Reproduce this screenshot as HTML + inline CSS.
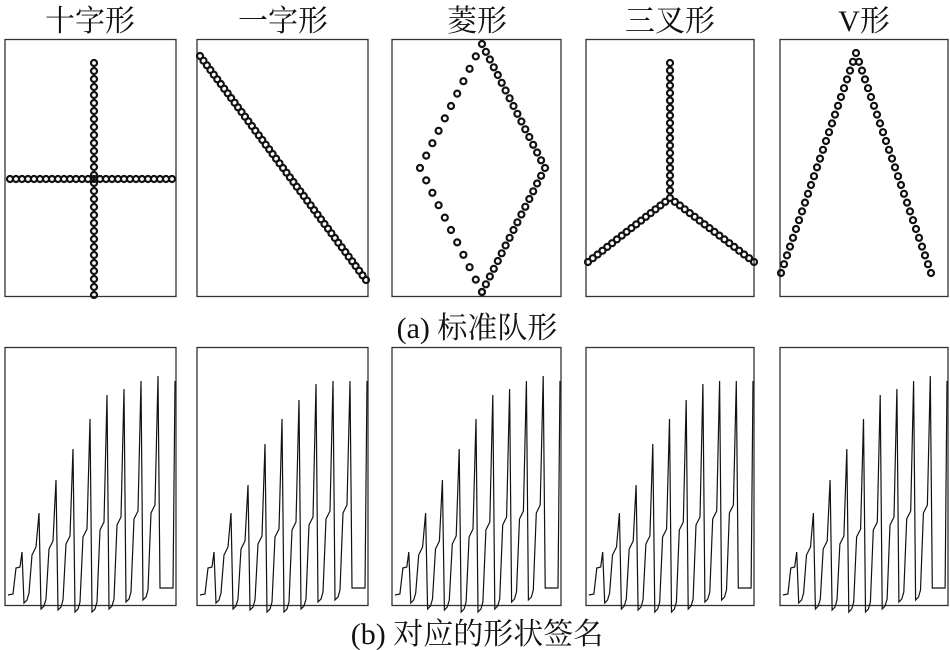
<!DOCTYPE html>
<html><head><meta charset="utf-8"><style>
html,body{margin:0;padding:0;background:#fff;width:950px;height:650px;overflow:hidden}
text{font-family:"Liberation Serif","Noto Serif CJK SC",serif;fill:#111}
</style></head><body>
<svg id="s" width="950" height="650" xmlns="http://www.w3.org/2000/svg">
<g font-size="30" text-anchor="middle">
<text x="90" y="31">十字形</text>
<text x="283" y="31">一字形</text>
<text x="477" y="31">菱形</text>
<text x="670" y="31">三叉形</text>
<text x="864" y="31">V形</text>
<text x="477" y="338">(a) 标准队形</text>
<text x="477" y="644">(b) 对应的形状签名</text>
</g>
<g id="g" fill="none" stroke="#333" stroke-width="1.3"></g>
</svg>
<script>
var g=document.getElementById('g'),h='';
var P=[[5,176],[197,368],[392,561],[586,754],[780,948]];
P.forEach(function(p){h+='<rect x="'+p[0]+'" y="39.5" width="'+(p[1]-p[0])+'" height="257"/>';
h+='<rect x="'+p[0]+'" y="347.5" width="'+(p[1]-p[0])+'" height="258"/>';});
var c='';
function dot(x,y){c+='<circle cx="'+x.toFixed(1)+'" cy="'+y.toFixed(1)+'" r="3"/>';}
function line(x1,y1,x2,y2,n,skip0){for(var i=skip0?1:0;i<=n;i++){dot(x1+(x2-x1)*i/n,y1+(y2-y1)*i/n);}}
line(94,63,94,295,29);line(10,179,172,179,27);
line(200,56,366,280,48);
line(482,44,420,168,10);line(420,168,482,292,10,1);
line(482,44,545,168,16,1);line(545,168,482,292,16,1);
line(670,63,670,198,18);line(670,198,588,262,17,1);line(670,198,754,262,17,1);
line(856,53,781,273,25);line(856,53,931,273,25,1);
h+='<g stroke-width="2.2" stroke="#111">'+c+'</g>';
var peaks=[205,166,135,100,72,50,40,34,31];
var sh=[221,208,202,197,190,183,178,172,166];
var bt=[256,262,263,265,265,262,255,253,251];
P.forEach(function(p,k){
 var x0=p[0],W=p[1]-p[0],y0=347,sc=W/171,d=(k%2?3:-2);
 var pts=[[3,248],[8,247],[11,221],[15,220]];
 for(var i=0;i<9;i++){
  var xs=17*i+17,pk=peaks[i]+(i>0?d*(i%3-1):0);
  pts.push([xs,pk]);
  if(i<8){pts.push([xs+2,bt[i]],[xs+5,bt[i]-3],[xs+7,bt[i]-10],[xs+10,sh[i+1]],[xs+14,sh[i+1]-8]);}
 }
 pts.push([155,241],[168,241],[170,34]);
 h+='<polyline stroke="#111" stroke-width="1.2" points="'+pts.map(function(q){return (x0+q[0]*sc).toFixed(1)+','+(y0+q[1]).toFixed(1)}).join(' ')+'"/>';
});
g.innerHTML=h;
</script>
</body></html>
